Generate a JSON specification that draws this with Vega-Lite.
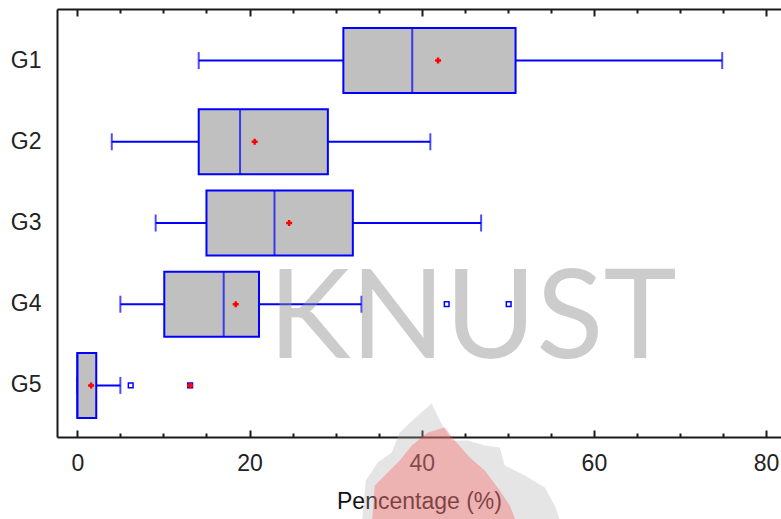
{
  "$schema": "https://vega.github.io/schema/vega-lite/v6.json",
  "width": 724,
  "height": 428,
  "autosize": {"type": "none"},
  "padding": {"left": 57, "top": 9, "right": 0, "bottom": 82},
  "background": "white",
  "config": {
    "view": {"stroke": null},
    "font": "Liberation Sans",
    "axis": {"grid": false, "labelFont": "Liberation Sans", "titleFont": "Liberation Sans"}
  },
  "datasets": {
    "boxes": [
      {"group": "G1", "lo": 14.1, "q1": 30.9, "med": 38.9, "q3": 50.9, "hi": 74.9, "mean": 41.9},
      {"group": "G2", "lo": 4.0, "q1": 14.1, "med": 18.9, "q3": 29.1, "hi": 41.0, "mean": 20.6},
      {"group": "G3", "lo": 9.1, "q1": 15.0, "med": 22.9, "q3": 32.0, "hi": 46.9, "mean": 24.6},
      {"group": "G4", "lo": 5.0, "q1": 10.1, "med": 17.0, "q3": 21.1, "hi": 33.0, "mean": 18.4},
      {"group": "G5", "lo": 0.0, "q1": 0.0, "med": 0.0, "q3": 2.2, "hi": 5.0, "mean": 1.6}
    ],
    "outliers": [
      {"group": "G4", "value": 42.9, "far": false},
      {"group": "G4", "value": 50.1, "far": false},
      {"group": "G5", "value": 6.2, "far": false},
      {"group": "G5", "value": 13.1, "far": true}
    ],
    "watermark": [{"group": "G4", "x": 45.9, "text": "KNUST"}],
    "crest": [{"group": "G5", "x": 45.0}]
  },
  "encoding": {
    "y": {
      "field": "group",
      "type": "nominal",
      "scale": {"domain": ["G1", "G2", "G3", "G4", "G5"], "paddingInner": 0, "paddingOuter": 0.135},
      "axis": {
        "title": null,
        "orient": "left",
        "ticks": false,
        "domainColor": "#1a1a1a",
        "domainWidth": 2,
        "labelFontSize": 23,
        "labelColor": "#222222",
        "labelPadding": 16
      }
    }
  },
  "resolve": {"axis": {"x": "independent"}},
  "layer": [
    {
      "data": {"name": "boxes"},
      "mark": {"type": "rule", "color": "#0000ff", "strokeWidth": 2},
      "encoding": {
        "x": {
          "field": "lo",
          "type": "quantitative",
          "scale": {"domain": [-2.36, 81.73], "nice": false, "zero": false},
          "axis": {
            "orient": "bottom",
            "values": [0, 5, 10, 15, 20, 25, 30, 35, 40, 45, 50, 55, 60, 65, 70, 75, 80],
            "labelExpr": "datum.value % 20 === 0 ? datum.label : ''",
            "tickSize": {"condition": {"test": "datum.value % 20 === 0", "value": -7}, "value": -4},
            "tickWidth": 2,
            "tickColor": "#1a1a1a",
            "domainColor": "#1a1a1a",
            "domainWidth": 2,
            "labelFontSize": 23,
            "labelColor": "#222222",
            "labelPadding": 22,
            "labelFlush": false,
            "title": "Pencentage (%)",
            "titleFontSize": 23,
            "titleFontWeight": "normal",
            "titleColor": "#111111",
            "titlePadding": 15
          }
        },
        "x2": {"field": "hi"}
      }
    },
    {
      "data": {"name": "boxes"},
      "transform": [{"fold": ["lo", "hi"], "as": ["end", "whisker"]}],
      "mark": {"type": "tick", "color": "#0000ff", "size": 17, "thickness": 2},
      "encoding": {
        "x": {
          "field": "whisker",
          "type": "quantitative",
          "axis": {
            "orient": "top",
            "values": [0, 5, 10, 15, 20, 25, 30, 35, 40, 45, 50, 55, 60, 65, 70, 75, 80],
            "labels": false,
            "title": null,
            "tickSize": {"condition": {"test": "datum.value % 20 === 0", "value": -7}, "value": -4},
            "tickWidth": 2,
            "tickColor": "#1a1a1a",
            "domainColor": "#1a1a1a",
            "domainWidth": 2
          }
        }
      }
    },
    {
      "data": {"name": "boxes"},
      "mark": {"type": "bar", "fill": "#c0c0c0", "stroke": "#0000ff", "strokeWidth": 2, "height": {"band": 0.8}},
      "encoding": {
        "x": {"field": "q1", "type": "quantitative", "axis": null},
        "x2": {"field": "q3"}
      }
    },
    {
      "data": {"name": "boxes"},
      "mark": {"type": "tick", "color": "#0000ff", "size": 65, "thickness": 2},
      "encoding": {
        "x": {"field": "med", "type": "quantitative", "axis": null}
      }
    },
    {
      "data": {"name": "outliers"},
      "mark": {"type": "point", "shape": "square", "filled": false, "color": "#0000ff", "strokeWidth": 1.5, "size": 22, "opacity": 1},
      "encoding": {
        "x": {"field": "value", "type": "quantitative", "axis": null}
      }
    },
    {
      "data": {"name": "outliers"},
      "transform": [{"filter": "datum.far"}],
      "mark": {"type": "point", "shape": "cross", "filled": true, "color": "#ff0000", "size": 36, "opacity": 1},
      "encoding": {
        "x": {"field": "value", "type": "quantitative", "axis": null}
      }
    },
    {
      "data": {"name": "boxes"},
      "mark": {"type": "point", "shape": "cross", "filled": true, "color": "#ff0000", "size": 36, "opacity": 1},
      "encoding": {
        "x": {"field": "mean", "type": "quantitative", "axis": null}
      }
    },
    {
      "data": {"name": "watermark"},
      "mark": {"type": "text", "font": "Lato", "fontSize": 124, "color": "#8f8f8f", "opacity": 0.45, "baseline": "alphabetic", "align": "center", "dy": 54},
      "encoding": {
        "x": {"field": "x", "type": "quantitative", "axis": null},
        "text": {"field": "text"}
      }
    },
    {
      "data": {"name": "crest"},
      "mark": {
        "type": "point",
        "filled": true,
        "size": 40000,
        "strokeWidth": 0,
        "color": "#a8a8a8",
        "opacity": 0.3,
        "shape": "M-1.03,1.4L-0.99,0.95L-0.87,0.77L-0.73,0.67L-0.65,0.47L-0.47,0.3L-0.33,0.18L-0.25,0.35L-0.13,0.55L0.03,0.55L0.2,0.6L0.35,0.62L0.4,0.8L0.6,0.9L0.8,1.02L0.9,1.2L0.97,1.4Z"
      },
      "encoding": {
        "x": {"field": "x", "type": "quantitative", "axis": null}
      }
    },
    {
      "data": {"name": "crest"},
      "mark": {
        "type": "point",
        "filled": true,
        "size": 40000,
        "strokeWidth": 0,
        "color": "#ff4d4d",
        "opacity": 0.33,
        "shape": "M-0.93,1.4L-0.9,1L-0.77,0.87L-0.65,0.75L-0.53,0.6L-0.37,0.47L-0.2,0.42L-0.1,0.55L0.05,0.72L0.2,0.85L0.35,1.05L0.45,1.2L0.53,1.4Z"
      },
      "encoding": {
        "x": {"field": "x", "type": "quantitative", "axis": null}
      }
    }
  ]
}
